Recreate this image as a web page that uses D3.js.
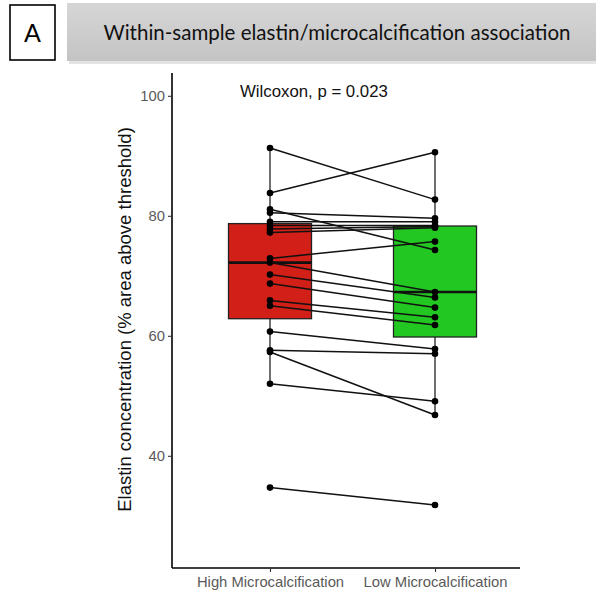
<!DOCTYPE html>
<html>
<head>
<meta charset="utf-8">
<script src="https://cdn.jsdelivr.net/npm/d3@7"></script>
<style>
  body { margin: 0; background: #fff; }
  svg { display: block; }
</style>
</head>
<body>
<svg id="chart" width="596" height="596"></svg>
<script>
// paired samples: same index = same sample
const groups = ["High Microcalcification", "Low Microcalcification"];
const highVals = [91.3, 83.8, 81.1, 80.5, 79.0, 78.4, 77.8, 77.2, 72.9, 72.2, 70.2, 68.7, 65.9, 65.0, 60.7, 57.6, 57.3, 52.0, 34.7];
const lowVals  = [82.7, 90.6, 74.3, 79.6, 79.0, 78.4, 78.2, 78.0, 75.7, 67.3, 66.4, 64.7, 63.1, 61.8, 57.8, 57.0, 46.8, 49.1, 31.8];
const boxColors = ["#d21f17", "#22c722"];
const yTicks = [40, 60, 80, 100];
const titleText = "Within-sample elastin/microcalcification association";
const panelLetter = "A";
const testLabel = "Wilcoxon, p = 0.023";
const yLabel = "Elastin concentration (% area above threshold)";

const svg = d3.select("#chart");

// header
const defs = svg.append("defs");
const grad = defs.append("linearGradient").attr("id", "hdr").attr("x1", 0).attr("y1", 0).attr("x2", 0).attr("y2", 1);
grad.append("stop").attr("offset", "0%").attr("stop-color", "#d6d6d6");
grad.append("stop").attr("offset", "100%").attr("stop-color", "#c4c4c4");

svg.append("rect").attr("x", 69).attr("y", 5).attr("width", 540).attr("height", 59).attr("fill", "#e4e4e4");
svg.append("rect").attr("x", 67).attr("y", 3).attr("width", 540).attr("height", 58).attr("fill", "url(#hdr)");
svg.append("text")
  .attr("x", 337).attr("y", 33).attr("dy", "0.35em")
  .attr("text-anchor", "middle")
  .style("font-family", "Lato, 'Open Sans', sans-serif")
  .style("font-size", "20.5px").attr("fill", "#111")
  .text(titleText);

svg.append("rect").attr("x", 10).attr("y", 5).attr("width", 45).attr("height", 55)
  .attr("fill", "#fff").attr("stroke", "#000").attr("stroke-width", 1.6);
svg.append("text")
  .attr("x", 32.5).attr("y", 33).attr("dy", "0.35em").attr("text-anchor", "middle")
  .style("font-family", "Lato, 'Open Sans', sans-serif")
  .style("font-size", "25px").attr("fill", "#000")
  .text(panelLetter);

// plot area
const margin = { left: 172, top: 73, right: 76, bottom: 28 };
const width = 596 - margin.left - margin.right;
const height = 596 - margin.top - margin.bottom;
const g = svg.append("g").attr("transform", `translate(${margin.left},${margin.top})`);

const x = d3.scalePoint().domain(groups).range([98, 263]);
const y = d3.scaleLinear().domain([21.3, 103.8]).range([height, 0]);

const yAxis = g.append("g")
  .call(d3.axisLeft(y).tickValues(yTicks).tickSize(4).tickPadding(3));
const xAxis = g.append("g").attr("transform", `translate(0,${height})`)
  .call(d3.axisBottom(x).tickSize(4).tickPadding(4));
xAxis.select(".domain").attr("d", `M0,0H${width}`);
yAxis.select(".domain").attr("d", `M0,${height}V0`);
[xAxis, yAxis].forEach(a => {
  a.select(".domain").attr("stroke", "#000").attr("stroke-width", 1.6);
  a.selectAll(".tick line").attr("stroke", "#333").attr("stroke-width", 1.1);
  a.selectAll(".tick text").attr("fill", "#5a5a5a")
    .style("font-family", "'Liberation Sans', Arial, sans-serif").style("font-size", "14.8px");
});

// box stats (type 7 quantiles like R)
function stats(v) {
  const s = v.slice().sort(d3.ascending);
  const q1 = d3.quantileSorted(s, 0.25), med = d3.quantileSorted(s, 0.5), q3 = d3.quantileSorted(s, 0.75);
  const iqr = q3 - q1;
  const lo = d3.min(s.filter(d => d >= q1 - 1.5 * iqr));
  const hi = d3.max(s.filter(d => d <= q3 + 1.5 * iqr));
  return { q1, med, q3, lo, hi };
}
const boxW = 83;
const series = [highVals, lowVals];
series.forEach((vals, i) => {
  const st = stats(vals);
  const cx = x(groups[i]);
  g.append("line").attr("x1", cx).attr("x2", cx).attr("y1", y(st.hi)).attr("y2", y(st.q3))
    .attr("stroke", "#222").attr("stroke-width", 1.3);
  g.append("line").attr("x1", cx).attr("x2", cx).attr("y1", y(st.q1)).attr("y2", y(st.lo))
    .attr("stroke", "#222").attr("stroke-width", 1.3);
  g.append("rect").attr("x", cx - boxW / 2).attr("y", y(st.q3))
    .attr("width", boxW).attr("height", y(st.q1) - y(st.q3))
    .attr("fill", boxColors[i]).attr("stroke", "#222").attr("stroke-width", 1.3);
  g.append("line").attr("x1", cx - boxW / 2).attr("x2", cx + boxW / 2)
    .attr("y1", y(st.med)).attr("y2", y(st.med))
    .attr("stroke", "#111").attr("stroke-width", 2.7);
});

// paired lines
const pairs = highVals.map((h, i) => [h, lowVals[i]]);
g.selectAll("line.pair").data(pairs).enter().append("line")
  .attr("class", "pair")
  .attr("x1", x(groups[0])).attr("x2", x(groups[1]))
  .attr("y1", d => y(d[0])).attr("y2", d => y(d[1]))
  .attr("stroke", "#111").attr("stroke-width", 1.5);

series.forEach((vals, i) => {
  g.selectAll(null).data(vals).enter().append("circle")
    .attr("cx", x(groups[i])).attr("cy", d => y(d)).attr("r", 3.3)
    .attr("fill", "#000");
});

// test annotation
g.append("text")
  .attr("x", 68).attr("y", y(100)).attr("dy", "0.1em")
  .style("font-family", "'Liberation Sans', Arial, sans-serif").style("font-size", "16.8px")
  .attr("fill", "#111")
  .text(testLabel);

// y label
svg.append("text")
  .attr("transform", `translate(125,${margin.top + height / 2 - 1}) rotate(-90)`)
  .attr("text-anchor", "middle").attr("dy", "0.35em")
  .style("font-family", "'Liberation Sans', Arial, sans-serif").style("font-size", "18.5px")
  .attr("fill", "#111")
  .text(yLabel);
</script>
</body>
</html>
